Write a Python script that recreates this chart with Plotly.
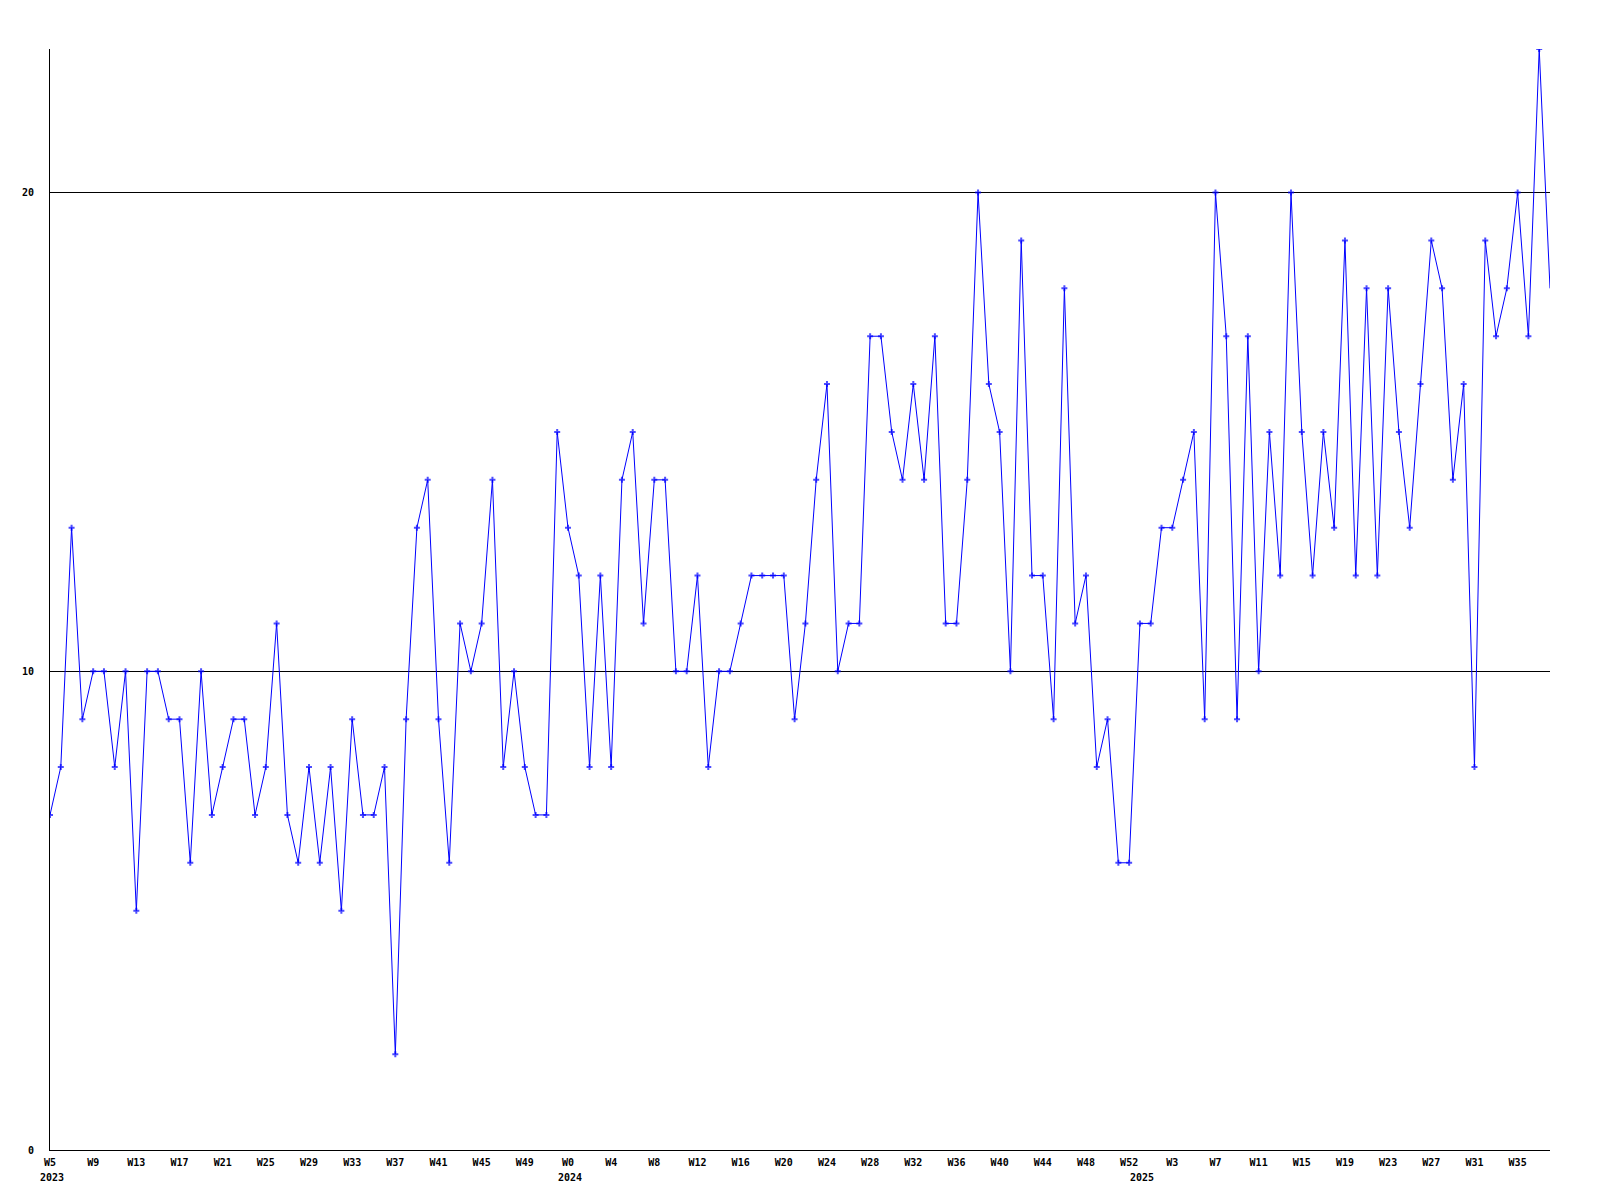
import plotly.graph_objects as go

values = [
    7, 8, 13, 9, 10, 10, 8, 10, 5, 10,
    10, 9, 9, 6, 10, 7, 8, 9, 9, 7,
    8, 11, 7, 6, 8, 6, 8, 5, 9, 7,
    7, 8, 2, 9, 13, 14, 9, 6, 11, 10,
    11, 14, 8, 10, 8, 7, 7, 15, 13, 12,
    8, 12, 8, 14, 15, 11, 14, 14, 10, 10,
    12, 8, 10, 10, 11, 12, 12, 12, 12, 9,
    11, 14, 16, 10, 11, 11, 17, 17, 15, 14,
    16, 14, 17, 11, 11, 14, 20, 16, 15, 10,
    19, 12, 12, 9, 18, 11, 12, 8, 9, 6,
    6, 11, 11, 13, 13, 14, 15, 9, 20, 17,
    9, 17, 10, 15, 12, 20, 15, 12, 15, 13,
    19, 12, 18, 12, 18, 15, 13, 16, 19, 18,
    14, 16, 8, 19, 17, 18, 20, 17, 23, 18,
]

tick_labels = [
    "W5", "W9", "W13", "W17", "W21", "W25", "W29", "W33", "W37", "W41",
    "W45", "W49", "W0", "W4", "W8", "W12", "W16", "W20", "W24", "W28",
    "W32", "W36", "W40", "W44", "W48", "W52", "W3", "W7", "W11", "W15",
    "W19", "W23", "W27", "W31", "W35",
]
year_labels = ["2023", "2024", "2025"]
year_positions = [0, 48, 101]

x = list(range(len(values)))
tick_positions = [4 * i for i in range(len(tick_labels))]
marker_sizes = [5] * (len(values) - 1) + [0]

font_family = "DejaVu Sans Mono"

fig = go.Figure()
fig.add_trace(go.Scatter(
    x=x, y=values, mode="lines+markers",
    line=dict(color="#0000FF", width=1),
    marker=dict(symbol="cross", size=marker_sizes, color="#0000FF",
                line=dict(width=0)),
    showlegend=False, hoverinfo="skip",
))

for lbl, pos in zip(year_labels, year_positions):
    fig.add_annotation(
        x=pos, y=0, xref="x", yref="paper", text=lbl, showarrow=False,
        yanchor="top", yshift=-20, xshift=2,
        font=dict(family=font_family, size=10, color="black", weight="bold"),
    )

fig.update_layout(
    width=1600, height=1200,
    margin=dict(l=42, r=58, t=41, b=58),
    plot_bgcolor="white", paper_bgcolor="white",
    xaxis=dict(
        range=[0, len(values) - 1],
        tickmode="array", tickvals=tick_positions, ticktext=tick_labels,
        showgrid=False, zeroline=False,
        showline=True, linecolor="black", linewidth=1,
        ticks="", ticklabelstandoff=3,
        tickfont=dict(family=font_family, size=10, color="black", weight="bold"),
    ),
    yaxis=dict(
        range=[0, 23],
        tickmode="array", tickvals=[0, 10, 20], ticktext=["0", "10", "20"],
        showgrid=True, gridcolor="black", gridwidth=1,
        zeroline=False,
        showline=True, linecolor="black", linewidth=1,
        ticks="", ticklabelstandoff=13,
        tickfont=dict(family=font_family, size=10, color="black", weight="bold"),
    ),
)

fig.write_html("out.html")
